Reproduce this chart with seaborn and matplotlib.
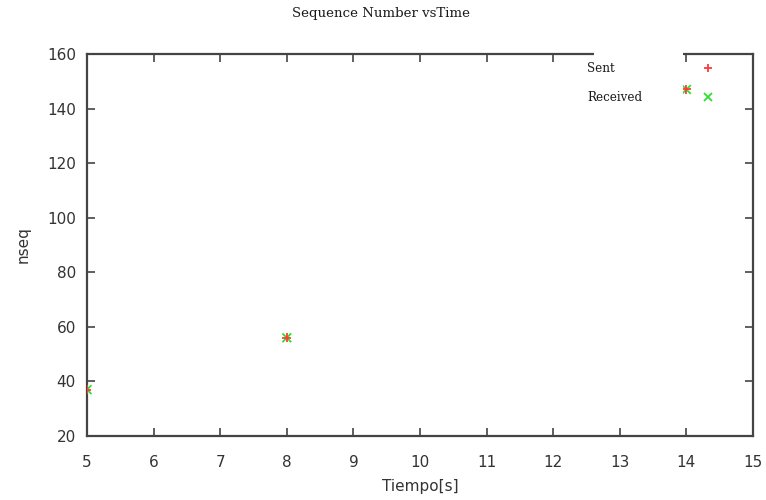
import matplotlib
matplotlib.use("Agg")
import matplotlib.pyplot as plt
import seaborn as sns
import pandas as pd
from matplotlib.patches import Rectangle
from matplotlib.legend import Legend

# Data
time_s = [5, 8, 14]
sent_seq = [37, 56, 147]
received_seq = [37, 56, 147]
x_ticks = [5, 6, 7, 8, 9, 10, 11, 12, 13, 14, 15]
y_ticks = [20, 40, 60, 80, 100, 120, 140, 160]
series_names = ["Sent", "Received"]

df = pd.DataFrame({
    "t": time_s + time_s,
    "nseq": received_seq + sent_seq,
    "serie": ["Received"] * len(time_s) + ["Sent"] * len(time_s),
})

sns.set_theme(style="white")
plt.rcParams['font.family'] = ['DejaVu Sans']

DPI = 100
fig = plt.figure(figsize=(7.66, 5.0), dpi=DPI)
ax = fig.add_axes([0.1136, 0.128, 0.8694, 0.764])

sns.scatterplot(data=df, x="t", y="nseq", hue="serie", style="serie",
                hue_order=series_names, style_order=series_names,
                palette={"Sent": "#ff3b3b", "Received": "#2ee02e"},
                markers={"Sent": "+", "Received": "x"},
                s=40, linewidth=1.3, ax=ax, legend=True, zorder=3)

ax.set_xlim(5, 15)
ax.set_ylim(20, 160)
ax.set_xticks(x_ticks)
ax.set_yticks(y_ticks)
ax.tick_params(direction="in", length=6, width=1.2, color="#444444",
               top=True, right=True, labelsize=11, labelcolor="#333333",
               bottom=True, left=True)
ax.tick_params(axis="x", pad=14)
ax.tick_params(axis="y", pad=8)
for sp in ax.spines.values():
    sp.set_color("#444444")
    sp.set_linewidth(1.6)

ax.set_xlabel("Tiempo[s]", fontsize=11, color="#333333", labelpad=6)
ax.set_ylabel("nseq", fontsize=11, color="#333333", labelpad=12)

fig.text(0.497, 0.973, "Sequence Number vsTime", ha="center", va="center",
         fontsize=9.6, family="DejaVu Serif", color="#1a1a1a")

# white patch behind legend (as in reference)
ax.add_patch(Rectangle((0.762, 0.86), 0.133, 0.16, transform=ax.transAxes,
                       facecolor="white", edgecolor="none", clip_on=False, zorder=4))

# legend: labels left-aligned at one x, markers aligned at another x
handles, labels = ax.get_legend_handles_labels()
ax.get_legend().remove()
hmap = dict(zip(labels, handles))

renderer = fig.canvas.get_renderer()
fs = 8.6
serif = "DejaVu Serif"
px_per_unit = fs * DPI / 72.0
ax_w_px = 0.8694 * 7.66 * DPI
text_x = 0.751
marker_x = 0.932
rows_y = {"Sent": 0.962, "Received": 0.886}
for name in series_names:
    t = fig.text(0, 0, name, fontsize=fs, family=serif)
    w = t.get_window_extent(renderer).width
    t.remove()
    handlelen = 1.0
    gap_px = (marker_x - text_x) * ax_w_px - w - handlelen * px_per_unit / 2
    pad = gap_px / px_per_unit
    leg = Legend(ax, [hmap[name]], [name], loc="center left",
                 bbox_to_anchor=(text_x, rows_y[name]), frameon=False,
                 markerfirst=False, handletextpad=pad, handlelength=handlelen,
                 borderpad=0, borderaxespad=0, markerscale=0.9,
                 prop={"family": serif, "size": fs})
    for tx in leg.get_texts():
        tx.set_color("#1a1a1a")
    leg.set_zorder(6)
    ax.add_artist(leg)

fig.savefig("out.png", dpi=DPI)
